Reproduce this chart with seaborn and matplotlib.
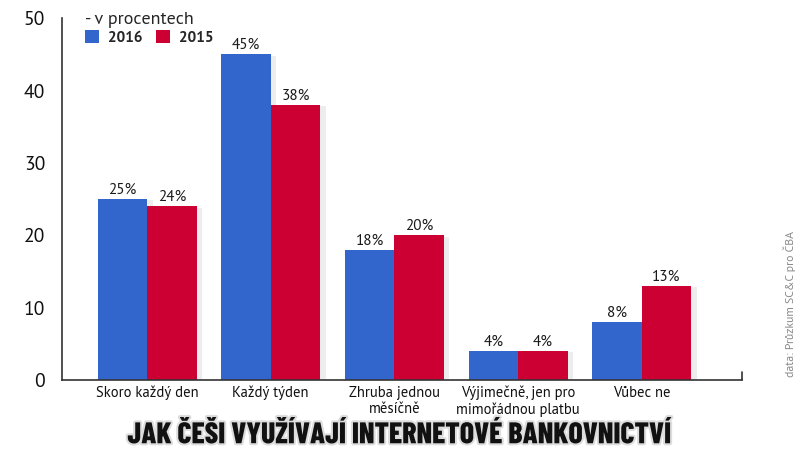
import matplotlib
matplotlib.use("Agg")
import matplotlib.pyplot as plt
import matplotlib.patheffects as pe
from matplotlib import font_manager as fm
import seaborn as sns
import pandas as pd

categories = ["Skoro každý den", "Každý týden", "Zhruba jednou\nměsíčně",
              "Výjimečně, jen pro\nmimořádnou platbu", "Vůbec ne"]
years = ["2016", "2015"]
values_2016 = [25, 45, 18, 4, 8]
values_2015 = [24, 38, 20, 4, 13]
yticks = [0, 10, 20, 30, 40, 50]
colors = ["#3366cc", "#cc0033"]

df = pd.DataFrame({
    "cat": categories * 2,
    "year": [years[0]] * len(categories) + [years[1]] * len(categories),
    "val": values_2016 + values_2015,
})

available = {f.name for f in fm.fontManager.ttflist}
def pick(cands):
    return [c for c in cands if c in available] + ["DejaVu Sans"]

body_font = pick(["PT Sans", "Open Sans"])[:1] + ["DejaVu Sans"]
title_font = pick(["Barlow Condensed", "Roboto Condensed", "Archivo Narrow"])[:1] + ["DejaVu Sans"]

sns.set_theme(style="white")
plt.rcParams["font.family"] = body_font

fig = plt.figure(figsize=(7.98, 4.5), dpi=100)
ax = fig.add_axes([0.0777, 0.1556, 0.852, 0.804])

sns.barplot(data=df, x="cat", y="val", hue="year", hue_order=years,
            palette=colors, width=0.8, ax=ax, saturation=1, legend=True,
            linewidth=0, edgecolor="none")

for p in ax.patches:
    p.set_path_effects([pe.SimplePatchShadow(offset=(4, -1), shadow_rgbFace="#cccccc", alpha=0.35), pe.Normal()])

for cont in ax.containers:
    ax.bar_label(cont, labels=[f"{int(v)}%" for v in cont.datavalues],
                 padding=1.5, fontsize=11, color="#1a1a1a")

ax.set_ylim(0, 50)
ax.set_xlim(-0.688, 4.81)
ax.set_yticks(yticks)
ax.set_xlabel("")
ax.set_ylabel("")
ax.tick_params(axis="y", direction="in", length=12, width=1.1, color="#333333",
               pad=12, labelsize=14, labelcolor="#111111")
ax.tick_params(axis="x", length=0, pad=4, labelsize=10.5, labelcolor="#111111")
for lab in ax.get_xticklabels():
    lab.set_verticalalignment("top")
    lab.set_linespacing(1.2)

for s in ["top", "right"]:
    ax.spines[s].set_visible(False)
for s in ["left", "bottom"]:
    ax.spines[s].set_color("#333333")
    ax.spines[s].set_linewidth(1.2)
ax.plot([1, 1], [0, 0.022], transform=ax.transAxes, color="#333333",
        lw=1.2, clip_on=False)

leg = ax.legend(title="- v procentech", ncol=2, loc="upper left",
                bbox_to_anchor=(0.025, 1.035), frameon=False,
                handlelength=0.9, handleheight=0.9, handletextpad=0.6,
                columnspacing=0.9, borderaxespad=0, labelspacing=0.15,
                prop={"weight": "bold", "size": 11}, title_fontsize=13)
leg._legend_box.align = "left"
for h in leg.legend_handles:
    h.set_path_effects([])

fig.text(0.5, 0.032, "JAK ČEŠI VYUŽÍVAJÍ INTERNETOVÉ BANKOVNICTVÍ",
         ha="center", va="center", fontsize=21.5, fontweight=800,
         family=title_font, color="#111111",
         path_effects=[pe.withStroke(linewidth=3, foreground="#dddddd")])

fig.text(0.997, 0.162, "data: Průzkum SC&C pro ČBA", rotation=90,
         ha="right", va="bottom", fontsize=8.5, color="#888888")

fig.savefig("out.png", dpi=100)
